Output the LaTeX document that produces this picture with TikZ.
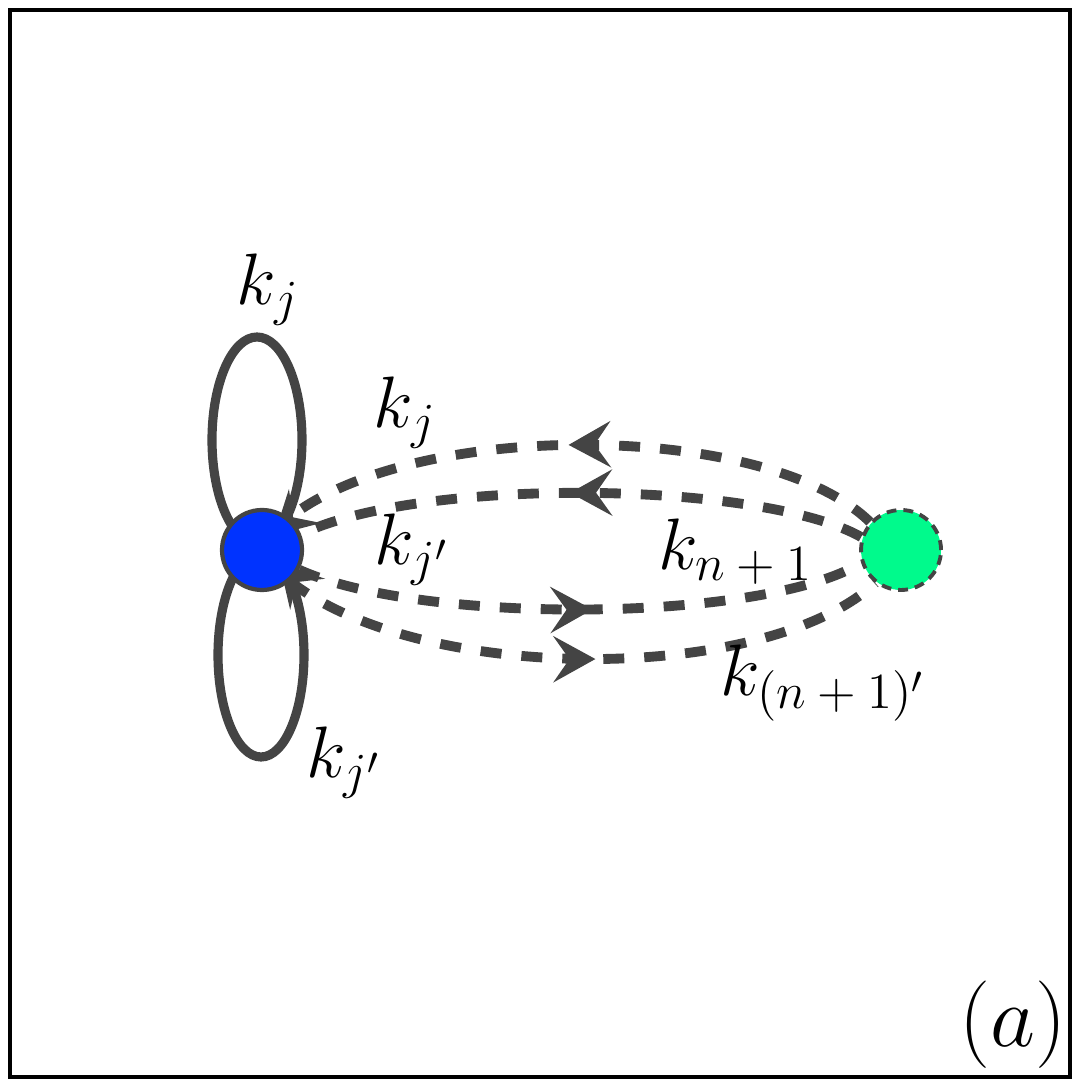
\documentclass[tikz,border=0pt]{standalone}
\usepackage{amsmath}
\usepackage{xcolor}
\usepackage{tikz}
\usetikzlibrary{positioning, arrows.meta, decorations.markings, backgrounds}
\definecolor{mgray}{HTML}{444444}
\definecolor{mblue}{HTML}{0033FF}
\definecolor{mgreen}{HTML}{00FA8C}
\tikzset{
  >=Stealth,
  node vertex/.style={circle,draw=mgray,line width=1.2pt,fill=mblue,minimum size=8cm/10,inner sep=0},
  node source/.style={circle,draw=mgray,line width=1.1pt,dash pattern=on 2.8pt off 2pt,fill=mgreen,minimum size=8cm/10,inner sep=0},
  loop line/.style={mgray,line width=2.6pt},
  loop arrow/.style={loop line,decoration={markings,
      mark=at position #1 with {\arrow{Stealth[length=4.2mm,width=4.6mm,inset=1.6mm]}}},
      postaction={decorate}},
  loop arrow rev/.style={loop line,decoration={markings,
      mark=at position #1 with {\arrowreversed{Stealth[length=4.2mm,width=4.6mm,inset=1.6mm]}}},
      postaction={decorate}},
  prop/.style={mgray,line width=2.8pt,dash pattern=on 0.21cm off 0.2cm},
  prop arrow/.style={prop,decoration={markings,
      mark=at position #1 with {\pgfsetdash{}{0pt}\arrow{Stealth[length=4.2mm,width=4.6mm,inset=1.6mm]}}},
      postaction={decorate}},
  lbl/.style={font=\fontsize{21.5}{26}\selectfont}
}

\begin{document}
\begin{tikzpicture}
  \useasboundingbox (0,0) rectangle (10.78,10.85);
  \draw[line width=0.9pt] (0.10,0.08) rectangle (10.70,10.75);

  % Vertices
  \node[node vertex] (v) at (2.62,5.35) {};
  \node[node source, right=5.55cm of v] (s) {};

  \begin{scope}[on background layer]
    % Tadpole loops
    \draw[loop arrow rev=0.79] (v.center) ++(-0.05,1.10) ellipse [x radius=0.45, y radius=1.03];
    \draw[loop arrow=0.205] (v.center) ++(-0.01,-1.05) ellipse [x radius=0.43, y radius=1.02];

    % Source -> vertex
    \draw[prop arrow=0.52] (s.138) .. controls +(-1.02,1.0) and +(1.28,1.0) .. (v.50);
    \draw[prop arrow=0.52] (s.162) .. controls +(-0.99,0.56) and +(1.2,0.58) .. (v.22);

    % Vertex -> source
    \draw[prop arrow=0.52] (v.-28) .. controls +(1.22,-0.55) and +(-0.99,-0.6) .. (s.-162);
    \draw[prop arrow=0.52] (v.-48) .. controls +(1.3,-1.03) and +(-1.11,-1.02) .. (s.-128);
  \end{scope}

  % Labels
  \node[lbl] (lk1) at (2.68,7.95) {$k_j$};
  \node[lbl] (lk2) at (4.05,6.72) {$k_j$};
  \node[lbl] (lk3) at (4.12,5.35) {$k_{j'}$};
  \node[lbl] (lk4) at (7.36,5.33) {$k_{n\mkern4mu+\mkern4mu1}$};
  \node[lbl] (lk5) at (8.23,4.02) {$k_{(n\mkern4mu+\mkern4mu1)'}$};
  \node[lbl] (lk6) at (3.44,3.22) {$k_{j'}$};
  \node[font=\fontsize{24}{28}\selectfont] (tag) at (10.13,0.60) {$(a)$};

\end{tikzpicture}
\end{document}
